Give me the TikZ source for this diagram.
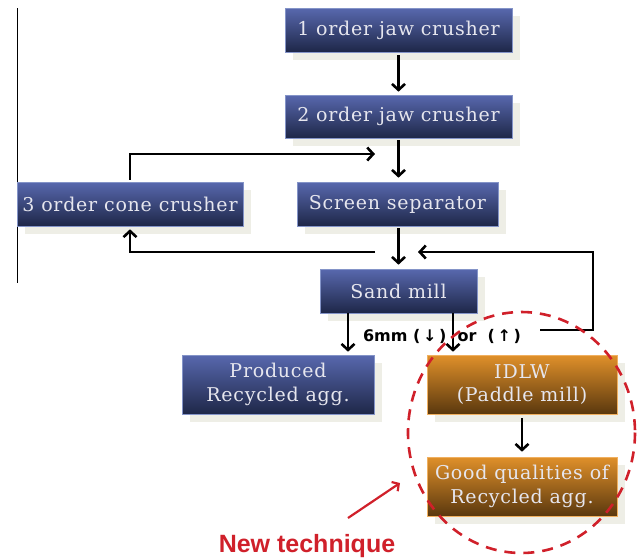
\documentclass[tikz,border=0pt]{standalone}
\usepackage{fontspec}
\setmainfont{DejaVu Serif}[LetterSpace=4]
\newfontfamily\labelfont{DejaVu Sans}
\newfontfamily\redfont{Liberation Sans}
\usetikzlibrary{arrows.meta,shadows}
\definecolor{bluetop}{HTML}{5868AE}
\definecolor{bluebot}{HTML}{1E2748}
\definecolor{blueedge}{HTML}{8494C8}
\definecolor{orangetop}{HTML}{E0902A}
\definecolor{orangebot}{HTML}{5A380E}
\definecolor{orangeedge}{HTML}{F0B060}
\definecolor{shadowcol}{HTML}{EEEEE6}
\definecolor{boxtext}{HTML}{E6E6EE}
\definecolor{newred}{HTML}{D0202A}
\tikzset{
  box/.style={inner sep=0pt, align=center, text=boxtext,
    font=\fontsize{19}{23.5}\selectfont, line width=0.6pt,
    drop shadow={shadow xshift=8pt, shadow yshift=-8pt, fill=shadowcol, opacity=1}},
  bluebox/.style={box, top color=bluetop, bottom color=bluebot, draw=blueedge},
  orangebox/.style={box, top color=orangetop, bottom color=orangebot, draw=orangeedge},
  arr/.style={-{Straight Barb[length=6pt,width=13pt]}, line width=2.6pt},
  redarr/.style={-{Straight Barb[length=5pt,width=11pt]}, line width=2.2pt, draw=newred},
  reddash/.style={draw=newred, line width=2.6pt, dash pattern=on 11pt off 8pt}
}
\begin{document}
\begin{tikzpicture}[x=1pt,y=-1pt]
\useasboundingbox (0,0) rectangle (641,558);
\draw[line width=0.8pt] (17,8) coordinate (vt) -- (17,283) coordinate (vb);
\node[bluebox, minimum width=227pt, minimum height=44pt] (j1) at (398.5,30) {1 order jaw crusher};
\node[bluebox, minimum width=227pt, minimum height=43pt] (j2) at (398.5,116.5) {2 order jaw crusher};
\node[bluebox, minimum width=226pt, minimum height=44pt] (cone) at (130,204) {3 order cone crusher};
\node[bluebox, minimum width=201pt, minimum height=44pt] (screen) at (397.5,204) {Screen separator};
\node[bluebox, minimum width=157pt, minimum height=44pt] (sand) at (398.5,291) {Sand mill};
\node[bluebox, minimum width=192pt, minimum height=59pt] (prod) at (278,384.5) {Produced\\Recycled agg.};
\node[orangebox, minimum width=190pt, minimum height=59pt] (idlw) at (522,384.5) {IDLW\\(Paddle mill)};
\node[orangebox, minimum width=190pt, minimum height=59pt] (good) at (522,486.5) {Good qualities of\\Recycled agg.};
\coordinate (loopend) at (375,154);
\coordinate (mergeL) at (375,252);
\coordinate (mergeR) at (418,252);
\coordinate (rc) at (593,252);
\coordinate (loopstart) at (540,330);
\draw[arr, shorten <=3pt, shorten >=3pt] (j1) -- (j2);
\draw[arr, shorten <=2pt, shorten >=4pt] (j2) -- (j2.south |- screen.north);
\draw[arr, shorten <=2pt, shorten >=4pt] (sand.north |- screen.south) -- (sand.north);
\draw[arr] ([yshift=2pt]cone.north) |- (loopend);
\draw[arr] (mergeL) -| ([yshift=-3pt]cone.south);
\draw[arr] (loopstart) -| (rc) -- (mergeR);
\draw[arr, shorten >=3pt] ([xshift=-50.5pt]sand.south) -- ([xshift=-50.5pt]sand.south |- prod.north);
\draw[arr, shorten >=3pt] ([xshift=54.5pt]sand.south) -- ([xshift=54.5pt]sand.south |- idlw.north);
\draw[arr, shorten <=4pt, shorten >=5pt] (idlw) -- (good);
\node[font=\labelfont\bfseries\fontsize{16}{18}\selectfont] (lbl) at (442,336) {6mm (\,↓\,)\ \ or\ \ (\,↑\,)};
\draw[reddash] (521.5,432.5) ellipse [x radius=113.5, y radius=120.5];
\coordinate (rtail) at (348,518);
\coordinate (rhead) at (400,483);
\draw[redarr] (rtail) -- (rhead);
\node[font=\redfont\bfseries\fontsize{25}{28}\selectfont, text=newred, anchor=base] (newt) at (307,552) {New technique};
\end{tikzpicture}
\end{document}
